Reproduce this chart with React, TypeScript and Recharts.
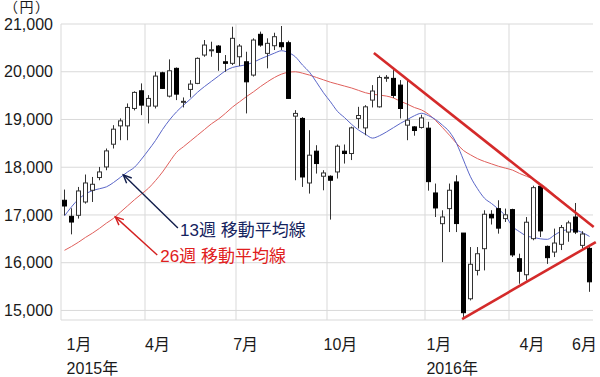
import React from 'react';
import {
  ComposedChart,
  Bar,
  Line,
  XAxis,
  YAxis,
  CartesianGrid,
  ReferenceLine,
  ReferenceDot,
} from 'recharts';

// Weekly candles (week starting Monday)
const weeks = [
  '2015-01-05', '2015-01-12', '2015-01-19', '2015-01-26', '2015-02-02', '2015-02-09', '2015-02-16', '2015-02-23',
  '2015-03-02', '2015-03-09', '2015-03-16', '2015-03-23', '2015-03-30', '2015-04-06', '2015-04-13', '2015-04-20',
  '2015-04-27', '2015-05-04', '2015-05-11', '2015-05-18', '2015-05-25', '2015-06-01', '2015-06-08', '2015-06-15',
  '2015-06-22', '2015-06-29', '2015-07-06', '2015-07-13', '2015-07-20', '2015-07-27', '2015-08-03', '2015-08-10',
  '2015-08-17', '2015-08-24', '2015-08-31', '2015-09-07', '2015-09-14', '2015-09-21', '2015-09-28', '2015-10-05',
  '2015-10-12', '2015-10-19', '2015-10-26', '2015-11-02', '2015-11-09', '2015-11-16', '2015-11-23', '2015-11-30',
  '2015-12-07', '2015-12-14', '2015-12-21', '2015-12-28', '2016-01-04', '2016-01-11', '2016-01-18', '2016-01-25',
  '2016-02-01', '2016-02-08', '2016-02-15', '2016-02-22', '2016-02-29', '2016-03-07', '2016-03-14', '2016-03-21',
  '2016-03-28', '2016-04-04', '2016-04-11', '2016-04-18', '2016-04-25', '2016-05-02', '2016-05-09', '2016-05-16',
  '2016-05-23', '2016-05-30', '2016-06-06', '2016-06-13',
];

const openV = [
  17308, 16972, 16993, 17272, 17517, 17784, 18006, 18482, 18866, 18866,
  19231, 19601, 19280, 19280, 19978, 19489, 20071, 19370, 19630, 19756,
  20350, 20450, 20538, 20209, 20176, 20314, 20209, 19930, 20784, 20385,
  20545, 20608, 20608, 19070, 19022, 17670, 18336, 17811, 17811, 17901,
  18336, 18287, 19022, 18824, 19406, 19265, 19880, 19861, 19720, 18881,
  18845, 18833, 18818, 17461, 16818, 17133, 17692, 16621, 15245, 15839,
  16294, 17014, 17133, 16924, 17112, 16084, 15748, 16504, 17600, 16342,
  16223, 16385, 16642, 16957, 16363, 16300,
];

const closeV = [
  17188, 16852, 17503, 17670, 17643, 17901, 18342, 18797, 18971, 19252,
  19567, 19301, 19441, 19909, 19651, 20020, 19531, 19380, 19741, 20280,
  20559, 20460, 20406, 20176, 20700, 20538, 19789, 20664, 20559, 20595,
  20734, 20524, 19441, 19127, 17796, 18252, 18077, 17880, 17727, 18440,
  18287, 18824, 19083, 19265, 19596, 19879, 19883, 19504, 19230, 18986,
  18769, 19033, 17698, 17147, 16958, 17518, 16820, 14953, 15967, 16188,
  17015, 16939, 16724, 17002, 16164, 15821, 16848, 17572, 16666, 16106,
  16412, 16736, 16834, 16642, 16601, 15600,
];

const highV = [
  17532, 17140, 17587, 17847, 17796, 18006, 18392, 18881, 19022, 19336,
  19590, 19756, 19510, 20000, 20000, 20259, 20090, 19462, 19825, 20300,
  20664, 20629, 20560, 20350, 20943, 20580, 20419, 20700, 20840, 20700,
  20817, 20958, 20650, 19196, 19050, 18776, 18461, 17937, 17830, 18476,
  18476, 18850, 19265, 19300, 19720, 19920, 19930, 20035, 19825, 19825,
  18860, 19100, 18951, 17658, 17098, 17658, 17832, 16621, 16328, 16328,
  17098, 17100, 17308, 17133, 17130, 16189, 16957, 17613, 17613, 16360,
  16714, 16790, 16880, 17251, 16660, 16328,
];

const lowV = [
  16993, 16594, 16924, 17238, 17272, 17727, 17937, 18392, 18566, 18566,
  19190, 19091, 18917, 19231, 19640, 19462, 19406, 19252, 19462, 19740,
  20314, 20314, 20020, 20000, 20140, 20119, 19127, 19900, 20524, 20071,
  20455, 20455, 19441, 17727, 17587, 17448, 17867, 17517, 16903, 17763,
  18077, 18150, 18812, 18670, 19252, 19250, 19789, 19450, 19022, 18566,
  18660, 18810, 17509, 16957, 16013, 16642, 16642, 14865, 15210, 15734,
  15839, 16800, 16609, 16853, 16120, 15560, 15629, 16470, 16538, 15975,
  16118, 16265, 16440, 16600, 16300, 15390,
];

// 13-week moving average
const ma13V = [
  16980, 17170, 17330, 17440, 17510, 17550, 17590, 17680, 17790, 17900,
  18000, 18170, 18360, 18560, 18790, 18990, 19160, 19300, 19430, 19570,
  19690, 19800, 19910, 20020, 20090, 20120, 20150, 20200, 20270, 20330,
  20390, 20440, 20400, 20310, 20140, 19990, 19780, 19560, 19370, 19170,
  19040, 18900, 18780, 18690, 18610, 18660, 18740, 18830, 18920, 19000,
  19080, 19130, 19080, 19000, 18880, 18740, 18500, 18150, 17800, 17550,
  17350, 17240, 17120, 16980, 16760, 16650, 16560, 16530, 16500, 16490,
  16580, 16660, 16690, 16680, 16630, 16550,
];

// 26-week moving average
const ma26V = [
  16260, 16340, 16430, 16530, 16620, 16720, 16830, 16930, 17060, 17190,
  17320, 17440, 17560, 17720, 17900, 18110, 18310, 18430, 18550, 18670,
  18790, 18910, 19010, 19130, 19260, 19370, 19480, 19580, 19690, 19790,
  19880, 19950, 19990, 20000, 19970, 19930, 19880, 19830, 19780, 19740,
  19700, 19660, 19610, 19560, 19530, 19510, 19490, 19450, 19380, 19320,
  19250, 19200, 19110, 18980, 18830, 18670, 18500, 18350, 18260, 18180,
  18120, 18070, 18020, 17980, 17940, 17870, 17810, 17750, 17660, 17550,
  17420, 17300, 17180, 17060, 16930, 16800,
];

const yTicks = [15000, 16000, 17000, 18000, 19000, 20000, 21000];
const monthTickPos = [0.3, 11.5, 24.1, 37.0, 51.7, 65.0, 72.5];
const monthLabels = ['1月', '4月', '7月', '10月', '1月', '4月', '6月'];
const yearLabels = ['2015年', '', '', '', '2016年', '', ''];
const quarterLines = [-0.5, 11.5, 24.5, 37.5, 51.5, 63.5];

const upperTrend = [{ x: 44.2, y: 20392 }, { x: 75.6, y: 16747 }];
const lowerTrend = [{ x: 56.8, y: 14820 }, { x: 75.9, y: 16433 }];
const ma13Arrow = [{ x: 16.2, y: 16726 }, { x: 8.4, y: 17840 }];
const ma26Arrow = [{ x: 13.25, y: 16161 }, { x: 7.26, y: 16960 }];
const ma13Note = { x: 16.5, y: 16569, text: '13週 移動平均線' };
const ma26Note = { x: 13.68, y: 16024, text: '26週 移動平均線' };

const data = weeks.map((w, i) => ({
  i,
  week: w,
  open: openV[i],
  high: highV[i],
  low: lowV[i],
  close: closeV[i],
  range: [lowV[i], highV[i]],
  ma13: ma13V[i],
  ma26: ma26V[i],
}));

const FONT = "'Liberation Sans', 'Noto Sans CJK JP', sans-serif";

const Candle = (props: any) => {
  const { x, y, width, height, payload } = props;
  if (x == null || y == null || !payload) return null;
  const { open, close, high, low } = payload;
  const cx = x + width / 2;
  const ratio = high === low ? 0 : height / (high - low);
  const yO = y + (high - open) * ratio;
  const yC = y + (high - close) * ratio;
  const top = Math.min(yO, yC);
  const bh = Math.max(Math.abs(yO - yC), 1);
  const up = close >= open;
  return (
    <g>
      <line x1={cx} x2={cx} y1={y} y2={y + height} stroke="#333" strokeWidth={1} />
      <rect
        x={cx - 2}
        y={top}
        width={4}
        height={bh}
        fill={up ? '#ffffff' : '#000000'}
        stroke={up ? '#333333' : '#000000'}
        strokeWidth={1}
      />
    </g>
  );
};

const makeArrow = (color: string) => (props: any) => {
  const { x1, y1, x2, y2 } = props;
  if ([x1, y1, x2, y2].some((v) => v == null || isNaN(v))) return null;
  const ang = Math.atan2(y2 - y1, x2 - x1);
  const L = 9;
  const a = 0.42;
  const ax = x2 - L * Math.cos(ang - a);
  const ay = y2 - L * Math.sin(ang - a);
  const bx = x2 - L * Math.cos(ang + a);
  const by = y2 - L * Math.sin(ang + a);
  return (
    <g>
      <line x1={x1} y1={y1} x2={x2} y2={y2} stroke={color} strokeWidth={1.4} />
      <polyline points={`${ax},${ay} ${x2},${y2} ${bx},${by}`} fill="none" stroke={color} strokeWidth={1.4} />
    </g>
  );
};

const makeNote = (text: string, color: string) => (props: any) => {
  const { cx, cy } = props;
  if (cx == null || cy == null) return null;
  return (
    <text x={cx} y={cy} fill={color} fontSize={17} fontFamily={FONT}>
      {text}
    </text>
  );
};

const MonthTick = (props: any) => {
  const { x, y, payload, index } = props;
  let idx = monthTickPos.indexOf(payload && payload.value);
  if (idx < 0) idx = index;
  return (
    <g>
      <text x={x} y={y + 30} fontSize={16} fill="#1a1a1a" fontFamily={FONT} textAnchor="start">
        {monthLabels[idx]}
      </text>
      {yearLabels[idx] ? (
        <text x={x} y={y + 54} fontSize={16} fill="#1a1a1a" fontFamily={FONT} textAnchor="start">
          {yearLabels[idx]}
        </text>
      ) : null}
    </g>
  );
};

const fmt = (v: number) => String(v).replace(/\B(?=(\d{3})+(?!\d))/g, ',');

export default function App() {
  return (
    <div style={{ position: 'absolute', left: 0, top: 0, width: 600, height: 377, background: '#fff', fontFamily: FONT }}>
      <svg style={{ position: 'absolute', left: 0, top: 0 }} width={60} height={16}>
        <text x={4} y={12} fontSize={14} letterSpacing={1.5} fill="#1a1a1a" fontFamily={FONT}>（円）</text>
      </svg>
      <ComposedChart
        width={600}
        height={377}
        data={data}
        margin={{ top: 24, right: 7, bottom: 0, left: 0 }}
      >
        <CartesianGrid stroke="#d9d9d9" strokeWidth={1} horizontal vertical={false} />
        {quarterLines.map((v) => (
          <ReferenceLine key={`q${v}`} x={v} stroke="#d9d9d9" strokeWidth={1} ifOverflow="visible" zIndex={-50} />
        ))}
        <XAxis
          dataKey="i"
          type="number"
          domain={[-0.5, 75.5]}
          ticks={monthTickPos}
          interval={0}
          allowDecimals
          axisLine={false}
          tickLine={false}
          tickSize={0}
          tickMargin={0}
          height={57}
          tick={<MonthTick />}
        />
        <YAxis
          type="number"
          domain={[14800, 21000]}
          ticks={yTicks}
          interval={0}
          allowDataOverflow
          axisLine={false}
          tickLine={false}
          width={61}
          tickFormatter={fmt}
          tick={{ fontSize: 16, fill: '#1a1a1a', fontFamily: FONT }}
        />
        <Line
          type="monotone"
          dataKey="ma26"
          stroke="#e0605c"
          strokeWidth={1}
          dot={false}
          activeDot={false}
          isAnimationActive={false}
          zIndex={100}
        />
        <Line
          type="monotone"
          dataKey="ma13"
          stroke="#5a66c8"
          strokeWidth={1}
          dot={false}
          activeDot={false}
          isAnimationActive={false}
          zIndex={100}
        />
        <Bar dataKey="range" barSize={5} shape={<Candle />} isAnimationActive={false} zIndex={200} />
        <ReferenceLine segment={upperTrend} stroke="#d42a2a" strokeWidth={2.6} ifOverflow="visible" zIndex={300} />
        <ReferenceLine segment={lowerTrend} stroke="#d42a2a" strokeWidth={2.6} ifOverflow="visible" zIndex={300} />
        <ReferenceLine segment={ma13Arrow} ifOverflow="visible" shape={makeArrow('#101c4a')} zIndex={300} />
        <ReferenceLine segment={ma26Arrow} ifOverflow="visible" shape={makeArrow('#d42020')} zIndex={300} />
        <ReferenceDot x={ma13Note.x} y={ma13Note.y} r={0} ifOverflow="visible" shape={makeNote(ma13Note.text, '#15235e')} zIndex={300} />
        <ReferenceDot x={ma26Note.x} y={ma26Note.y} r={0} ifOverflow="visible" shape={makeNote(ma26Note.text, '#e02020')} zIndex={300} />
      </ComposedChart>
    </div>
  );
}
